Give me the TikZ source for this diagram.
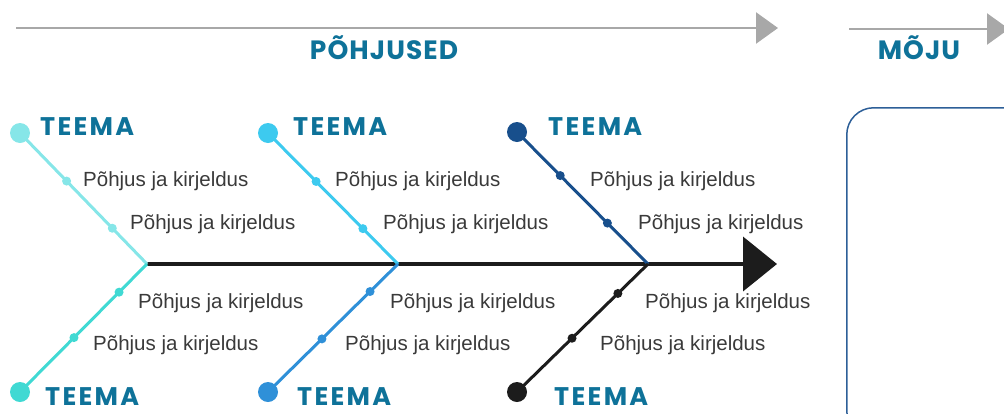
\documentclass[tikz,border=0pt]{standalone}
\usepackage{fontspec}
\setmainfont{Liberation Sans}
\newfontfamily\headfont{Poppins}[LetterSpace=4.0]
\newfontfamily\themefont{Poppins}[LetterSpace=9.0]
\usetikzlibrary{arrows.meta}

\definecolor{headblue}{HTML}{0E7299}
\definecolor{textgray}{HTML}{3A3A3A}
\definecolor{timegray}{HTML}{A8A8A8}
\definecolor{spineblack}{HTML}{1C1C1C}
\definecolor{boxblue}{HTML}{2D5F98}
\definecolor{cA}{HTML}{86E6E8}
\definecolor{cB}{HTML}{3DCAEF}
\definecolor{cC}{HTML}{184F8C}
\definecolor{cD}{HTML}{40D9D3}
\definecolor{cE}{HTML}{2F90D8}
\definecolor{cF}{HTML}{1C1C1C}

\tikzset{
  timeline/.style={draw=timegray, line width=2.5pt,
    -{Triangle[length=22pt,width=31pt,fill=timegray]}},
  spineline/.style={draw=spineblack, line width=4pt,
    -{Triangle[length=34pt,width=54pt,fill=spineblack]}},
  bone/.style={draw=#1, line width=3pt},
  bigdot/.style={circle, fill=#1, inner sep=0pt, minimum size=20pt},
  smalldot/.style={circle, fill=#1, inner sep=0pt, minimum size=9pt},
  heading/.style={text=headblue, font=\headfont\bfseries\fontsize{26.5}{27}\selectfont, anchor=base, inner sep=0pt},
  theme/.style={text=headblue, font=\themefont\bfseries\fontsize{25.5}{26}\selectfont, anchor=base west, inner sep=0pt},
  cause/.style={text=textgray, font=\fontsize{20.5}{21}\selectfont, anchor=base west, inner sep=0pt},
  effectbox/.style={draw=boxblue, line width=1.5pt, rounded corners=27pt}
}

\begin{document}
\begin{tikzpicture}[x=1pt,y=-1pt]
\clip (0,0) rectangle (1004,413);
\useasboundingbox (0,0) rectangle (1004,413);

% time arrows and headings
\coordinate (ta) at (16,28);
\coordinate (tb) at (778,28);
\coordinate (tc) at (849,29);
\coordinate (td) at (1009,29);
\draw[timeline] (ta) -- (tb);
\draw[timeline] (tc) -- (td);
\node[heading] (hcause) at (384,59) {PÕHJUSED};
\node[heading] (heffect) at (919,59) {MÕJU};

% effect box
\node[effectbox, minimum width=200pt, minimum height=330pt, anchor=north west] (effect) at (846,107) {};

% spine
\coordinate (j1) at (147,264);
\coordinate (j2) at (398,264);
\coordinate (j3) at (648,264);
\coordinate (head) at (777,264);
\draw[spineline] (j1) -- (head);

% theme circles
\node[bigdot=cA] (u1) at (20,133) {};
\node[bigdot=cB] (u2) at (268,133) {};
\node[bigdot=cC] (u3) at (517,132) {};
\node[bigdot=cD] (l1) at (20,392) {};
\node[bigdot=cE] (l2) at (268,392) {};
\node[bigdot=cF] (l3) at (517,392) {};

% bones
\draw[bone=cA] (u1.center) -- (j1);
\draw[bone=cB] (u2.center) -- (j2);
\draw[bone=cC] (u3.center) -- (j3);
\draw[bone=cD] (l1.center) -- (j1);
\draw[bone=cE] (l2.center) -- (j2);
\draw[bone=cF] (l3.center) -- (j3);

% cause dots along the bones
\path (u1.center) -- (j1) node[smalldot=cA, pos=0.367] (u1a) {} node[smalldot=cA, pos=0.727] (u1b) {};
\path (u2.center) -- (j2) node[smalldot=cB, pos=0.37] (u2a) {} node[smalldot=cB, pos=0.73] (u2b) {};
\path (u3.center) -- (j3) node[smalldot=cC, pos=0.33] (u3a) {} node[smalldot=cC, pos=0.69] (u3b) {};
\path (j1) -- (l1.center) node[smalldot=cD, pos=0.22] (l1a) {} node[smalldot=cD, pos=0.575] (l1b) {};
\path (j2) -- (l2.center) node[smalldot=cE, pos=0.215] (l2a) {} node[smalldot=cE, pos=0.585] (l2b) {};
\path (j3) -- (l3.center) node[smalldot=cF, pos=0.23] (l3a) {} node[smalldot=cF, pos=0.58] (l3b) {};

% theme labels
\node[theme] (tu1) at (40,135) {TEEMA};
\node[theme] (tu2) at (293,135) {TEEMA};
\node[theme] (tu3) at (548,135) {TEEMA};
\node[theme] (tl1) at (45,405) {TEEMA};
\node[theme] (tl2) at (297,405) {TEEMA};
\node[theme] (tl3) at (554,405) {TEEMA};

% cause labels
\node[cause] (cu1a) at (83,186) {Põhjus ja kirjeldus};
\node[cause] (cu1b) at (130,229) {Põhjus ja kirjeldus};
\node[cause] (cu2a) at (335,186) {Põhjus ja kirjeldus};
\node[cause] (cu2b) at (383,229) {Põhjus ja kirjeldus};
\node[cause] (cu3a) at (590,186) {Põhjus ja kirjeldus};
\node[cause] (cu3b) at (638,229) {Põhjus ja kirjeldus};
\node[cause] (cl1a) at (138,308) {Põhjus ja kirjeldus};
\node[cause] (cl1b) at (93,350) {Põhjus ja kirjeldus};
\node[cause] (cl2a) at (390,308) {Põhjus ja kirjeldus};
\node[cause] (cl2b) at (345,350) {Põhjus ja kirjeldus};
\node[cause] (cl3a) at (645,308) {Põhjus ja kirjeldus};
\node[cause] (cl3b) at (600,350) {Põhjus ja kirjeldus};
\end{tikzpicture}
\end{document}
